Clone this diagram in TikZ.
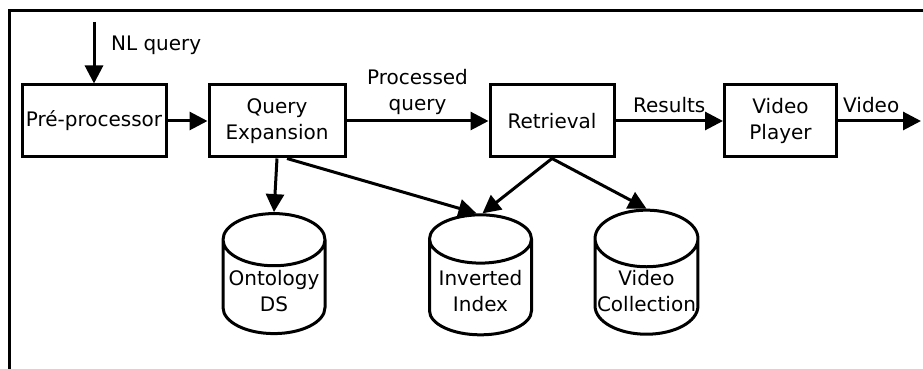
\documentclass[tikz,border=0pt]{standalone}
\usepackage{fontspec}
\setmainfont{DejaVu Sans}
\usetikzlibrary{shapes.geometric,arrows.meta}

\tikzset{
  block/.style={
    draw,line width=1.5pt,minimum height=36pt,align=center,
    font=\fontsize{10}{13}\selectfont,inner sep=1pt,
  },
  store/.style={
    draw,line width=1.5pt,cylinder,shape border rotate=90,aspect=0.55,
    minimum width=51pt,minimum height=60pt,align=center,
    font=\fontsize{10}{13}\selectfont,inner sep=1pt,
  },
  flow/.style={
    line width=1.5pt,-{Triangle[length=9pt,width=9pt]},
  },
  lbl/.style={
    font=\fontsize{10}{13}\selectfont,align=center,
  }
}

\begin{document}
\begin{tikzpicture}[x=0.5pt,y=-0.5pt]
    \useasboundingbox (0,0) rectangle (923,369);
    \draw[line width=1.5pt] (9,370) -- (9,11) -- (924,11);

    \node[block,minimum width=72pt] (pre)    at (94,121)    {Pré-processor};
    \node[block,minimum width=68pt] (qexp)   at (277,121)   {Query\\Expansion};
    \node[block,minimum width=62pt] (retr)   at (552,121)   {Retrieval};
    \node[block,minimum width=56pt] (player) at (780.5,121) {Video\\Player};

    \node[store] (onto) at (274,291)   {Ontology\\DS};
    \node[store] (inv)  at (480.5,291) {Inverted\\Index};
    \node[store] (coll) at (646.5,291) {Video\\Collection};

    \coordinate (nlin)  at (94,22);
    \coordinate (vout)  at (921,121);

    \draw[flow] (nlin) -- (pre.north);
    \node[lbl,anchor=west] at (104,45) {NL query};
    \draw[flow] (pre) -- (qexp);
    \draw[flow] (qexp) -- node[lbl,above=-1pt] {Processed\\query} (retr);
    \draw[flow] (retr) -- node[lbl,above] {Results} (player);
    \draw[flow] (player) -- node[lbl,above,pos=0.4] {Video} (vout);

    \draw[flow] (qexp.south) -- (onto.north);
    \draw[flow] ([xshift=5pt]qexp.south) -- ([xshift=-2pt]inv.north);
    \draw[flow] (retr.south) -- ([xshift=1pt]inv.north);
    \draw[flow] (retr.south) -- (coll.north);
\end{tikzpicture}
\end{document}
